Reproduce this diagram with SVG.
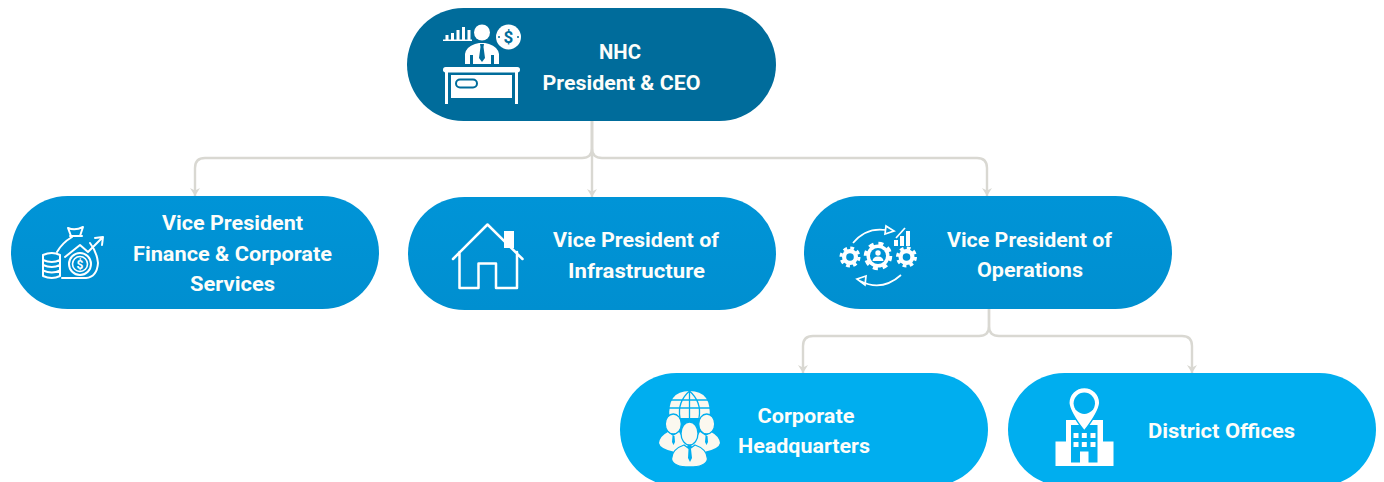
<svg xmlns="http://www.w3.org/2000/svg" width="1384" height="482" viewBox="0 0 1384 482">
<style>
.t{font-family:"Roboto","Liberation Sans",sans-serif;font-weight:700;font-size:20px;fill:#fdfdfa;text-anchor:middle}
.c{fill:none;stroke:#d9d8d2;stroke-width:2.400;marker-end:url(#a)}
.w{fill:#fff}
.s{fill:none;stroke:#fff;stroke-width:2;stroke-linejoin:round;stroke-linecap:round}
.ceo{fill:#006c9b}.vp{fill:url(#g)}.lo{fill:#00aeef}
</style>
<defs>
<marker id="a" markerUnits="userSpaceOnUse" markerWidth="12" markerHeight="12" refX="10" refY="6" orient="auto" viewBox="0 0 12 12"><path d="M2 1 L10 6 L2 11 L4.500 6Z" fill="#d9d8d2"/></marker>
<linearGradient id="g" x1="0" y1="0" x2="0" y2="1"><stop offset="0" stop-color="#0094d7"/><stop offset="1" stop-color="#008fd0"/></linearGradient>
</defs>
<g id="connectors">
<path class="c" d="M592 121 V148 Q592 158 582 158 H205 Q195 158 195 168 V196"/>
<path class="c" d="M592 121 V197"/>
<path class="c" d="M592 121 V148 Q592 158 602 158 H977 Q987 158 987 168 V196"/>
<path class="c" d="M989 309 V326 Q989 336 979 336 H813 Q803 336 803 346 V373"/>
<path class="c" d="M989 309 V326 Q989 336 999 336 H1182 Q1192 336 1192 346 V373"/>
</g>
<g id="node-ceo">
<rect class="ceo" x="407" y="8" width="369" height="113" rx="56.500"/>
<g fill="#fff">
<circle cx="482" cy="32.500" r="8"/>
<path d="M465 64 V54 Q466 47 475 44 L479 43 H485 L489 44 Q498 47 499 54 V64 H494 V55 H491 V64 H473 V55 H470 V64Z"/>
<path d="M443 39.500 H472 V41 H443Z M445.500 35 h3 v5 h-3z M451 33 h3 v7 h-3z M456.500 30 h3 v10 h-3z M462 27 h3 v13 h-3z M467.500 30 h3 v10 h-3z"/>
<circle cx="508.500" cy="37" r="12.500"/>
<rect x="443" y="67" width="77" height="5.500" rx="2.700"/>
<rect x="445" y="72" width="3" height="32"/>
<rect x="515" y="72" width="3" height="32"/>
<rect x="451" y="75" width="61" height="23"/>
</g>
<path d="M480 44 H484 L483.500 47 L485 58 L482 62 L479 58 L480.500 47Z" fill="#006c9b"/>
<rect x="456" y="79.500" width="21" height="8" rx="4" fill="none" stroke="#006c9b" stroke-width="2"/>
<text x="508.500" y="43" text-anchor="middle" style="font-family:'Roboto',sans-serif;font-weight:700;font-size:17px;fill:#006c9b">$</text>
<circle cx="499" cy="37" r="1" fill="#006c9b"/><circle cx="518" cy="37" r="1" fill="#006c9b"/>
<text class="t" x="620" y="59" textLength="42" lengthAdjust="spacingAndGlyphs">NHC</text>
<text class="t" x="621.500" y="89.500" textLength="158" lengthAdjust="spacingAndGlyphs">President &amp; CEO</text>
</g>
<g id="node-finance">
<rect class="vp" x="11" y="196" width="368" height="113" rx="56.500"/>
<g class="s">
<path d="M43 255 Q52 251 60 255 V276 Q52 280 43 276Z M43 260 Q52 264 60 260 M43 265 Q52 269 60 265 M43 270.500 Q52 274.500 60 270.500"/>
<path d="M57 252 Q62 243 72 237 M90 243 Q97 252 98 263 Q97 277 86 278 H62"/>
<path d="M71 236 L68 228 Q75 231 83 227 L80 236Z M70 236 H82"/>
<path d="M65 257 L80 245 L88 252 L101 239 M95 238 L103 237 L102 245"/>
<circle cx="80" cy="264" r="11"/>
<circle cx="80" cy="264" r="7.500" stroke-width="1.600"/>
</g>
<text x="80" y="268.500" text-anchor="middle" style="font-family:'Roboto',sans-serif;font-weight:700;font-size:12px;fill:#fff">$</text>
<text class="t" x="232.500" y="230" textLength="141" lengthAdjust="spacingAndGlyphs">Vice President</text>
<text class="t" x="232.500" y="260.500" textLength="199" lengthAdjust="spacingAndGlyphs">Finance &amp; Corporate</text>
<text class="t" x="232.500" y="291" textLength="85" lengthAdjust="spacingAndGlyphs">Services</text>
</g>
<g id="node-infrastructure">
<rect class="vp" x="408" y="197" width="368" height="113" rx="56.500"/>
<path class="w" d="M504 231 H514 V248 H504Z"/>
<path class="s" stroke-width="2.500" style="stroke-width:2.500" d="M453 259 L487.500 224.500 L522.500 259 M459.500 252 V288 H478.500 V263.500 H496 V288 H517 V252"/>
<text class="t" x="636" y="247" textLength="166" lengthAdjust="spacingAndGlyphs">Vice President of</text>
<text class="t" x="636.500" y="277.500" textLength="137" lengthAdjust="spacingAndGlyphs">Infrastructure</text>
</g>
<g id="node-operations">
<rect class="vp" x="804" y="196" width="368" height="113" rx="56.500"/>
<g fill="#fff">
<circle cx="878" cy="256" r="11.500"/>
<circle cx="850" cy="257" r="8"/>
<circle cx="906.500" cy="257" r="8"/>
</g>
<g fill="none" stroke="#fff">
<circle cx="878" cy="256" r="12.500" stroke-width="3.500" stroke-dasharray="5 4.820"/>
<circle cx="850" cy="257" r="9" stroke-width="3" stroke-dasharray="3.800 3.270"/>
<circle cx="906.500" cy="257" r="9" stroke-width="3" stroke-dasharray="3.800 3.270"/>
<path stroke-width="1.700" d="M853 243 Q866 227 886 230 M901 275 Q882 292 860 281"/>
<path stroke-width="1.700" d="M886 226 L894 231 L885 234Z M866 276 L857 279 L865 285Z"/>
<path stroke-width="1.700" d="M896 238 L905 228"/>
</g>
<circle cx="878" cy="256" r="8" fill="#0092d5"/><circle cx="850" cy="257" r="3.800" fill="#0092d5"/><circle cx="906.500" cy="257" r="3.800" fill="#0092d5"/>
<g fill="#fff">
<rect x="894" y="240" width="4" height="6"/><rect x="900" y="236" width="4" height="10"/><rect x="906" y="231" width="4" height="15"/>
<circle cx="878" cy="253" r="2.700"/><path d="M872.500 261 Q873 256.500 878 256.500 Q883 256.500 883.500 261Z"/>
</g>
<text class="t" x="1029.500" y="246.500" textLength="165" lengthAdjust="spacingAndGlyphs">Vice President of</text>
<text class="t" x="1030" y="277" textLength="106" lengthAdjust="spacingAndGlyphs">Operations</text>
</g>
<g id="node-headquarters">
<rect class="lo" x="620" y="373" width="368" height="113" rx="56.500"/>
<g fill="#fbf8ef">
<path d="M669.500 418 Q667 391 689.500 391 Q712 391 709.500 418Z"/>
<path d="M659 443 Q660 436 668 432 L673 436 L679 432 L688 446 L675 452 Q660 449 659 443Z"/>
<path d="M720 443 Q719 436 711 432 L706 436 L700 432 L691 446 L704 452 Q719 449 720 443Z"/>
</g>
<g fill="none" stroke="#00aeef" stroke-width="1.300">
<path d="M670 400 H709 M669 408 H710 M689.500 391 V418 M689.500 391 Q677 402 680 418 M689.500 391 Q702 402 699 418"/>
</g>
<g fill="#fbf8ef" stroke="#00aeef" stroke-width="1.300">
<ellipse cx="673.300" cy="424" rx="8" ry="10"/><ellipse cx="706.700" cy="424" rx="8" ry="10"/>
<path d="M671.500 459 Q672 449 684 445 L689.500 449 L695 445 Q707 449 707.500 459 Q706 467 689.500 467 Q673 467 671.500 459Z"/>
<ellipse cx="689.500" cy="433.500" rx="8.500" ry="11.500"/>
</g>
<path d="M688.500 449 H691 L692 458 L690 462 L688 458Z M672.500 436 h2 l0.500 6 l-1.500 3 l-1.500 -3z M705.500 436 h2 l0.500 6 l-1.500 3 l-1.500 -3z" fill="#00aeef"/>
<text class="t" x="806" y="422.500" textLength="97" lengthAdjust="spacingAndGlyphs">Corporate</text>
<text class="t" x="804" y="453" textLength="132" lengthAdjust="spacingAndGlyphs">Headquarters</text>
</g>
<g id="node-district">
<rect class="lo" x="1008" y="373" width="368" height="113" rx="56.500"/>
<rect class="w" x="1055.500" y="441.500" width="58" height="24.500"/>
<rect class="w" x="1066" y="420" width="37" height="46"/>
<rect x="1071" y="425" width="26.500" height="37.500" fill="#00aeef"/>
<path class="w" d="M1068.800 403 A15.500 15.500 0 1 1 1099.800 403 Q1099 412 1084.300 431 Q1069.500 412 1068.800 403Z" stroke="#00aeef" stroke-width="1.500"/>
<circle cx="1084.300" cy="403.300" r="10.700" fill="#00aeef"/>
<path class="w" d="M1080 451.500 H1088.500 V466 H1080Z M1073.500 433 h5 v5 h-5z M1081.800 433 h5 v5 h-5z M1090.500 433 h5 v5 h-5z M1073.500 442 h5 v5 h-5z M1081.800 442 h5 v5 h-5z M1090.500 442 h5 v5 h-5z"/>
<text class="t" x="1221.500" y="437.500" textLength="147" lengthAdjust="spacingAndGlyphs">District Offices</text>
</g>
</svg>
